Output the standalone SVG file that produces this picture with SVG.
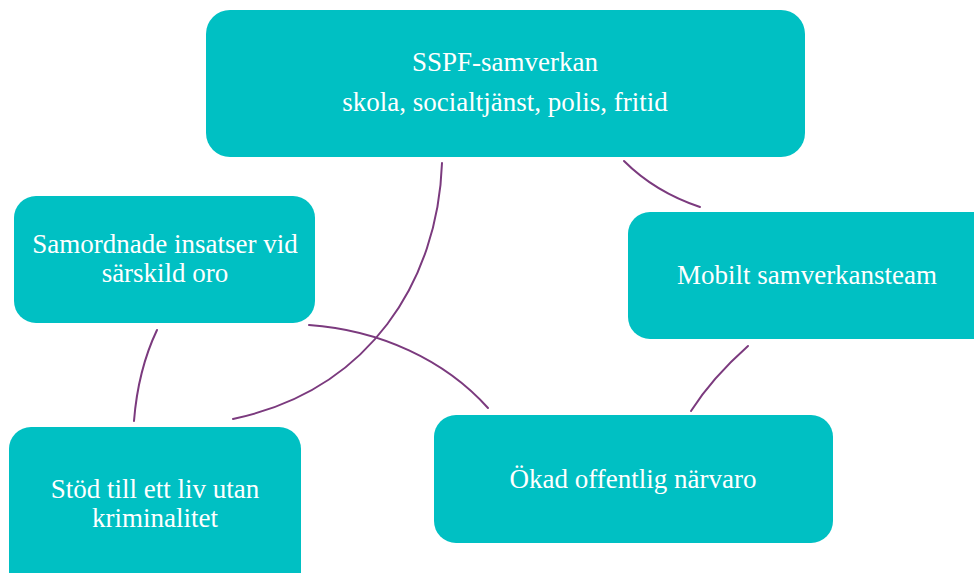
<svg xmlns="http://www.w3.org/2000/svg" width="974" height="573" viewBox="0 0 974 573">
<style>
.box{fill:#00c0c3;}
.t{font-family:"Liberation Serif","Times New Roman",serif;font-size:27px;fill:#ffffff;text-anchor:middle;}
.c{fill:none;stroke:#7b3a7e;stroke-width:2;stroke-linecap:round;}
</style>
<rect width="974" height="573" fill="#ffffff"/>
<g id="connectors">
<path class="c" d="M442,163 C438,280 370,390 233,419"/>
<path class="c" d="M624,161 Q655,192 700,207"/>
<path class="c" d="M748,346 Q712,378 691,411"/>
<path class="c" d="M309,325 C380,330 445,360 488,408"/>
<path class="c" d="M157,330 Q138,370 134,421"/>
</g>
<g id="node-sspf">
<rect class="box" x="206" y="10" width="599" height="147" rx="24"/>
<text class="t" x="505" y="71">SSPF-samverkan</text>
<text class="t" x="505" y="111">skola, socialtjänst, polis, fritid</text>
</g>
<g id="node-samordnade">
<rect class="box" x="14" y="196" width="301" height="127" rx="22"/>
<text class="t" x="165" y="253">Samordnade insatser vid</text>
<text class="t" x="165" y="282">särskild oro</text>
</g>
<g id="node-mobilt">
<rect class="box" x="628" y="212" width="370" height="127" rx="22"/>
<text class="t" x="807" y="284">Mobilt samverkansteam</text>
</g>
<g id="node-stod">
<rect class="box" x="9" y="427" width="292" height="170" rx="22"/>
<text class="t" x="155" y="498">Stöd till ett liv utan</text>
<text class="t" x="155" y="527">kriminalitet</text>
</g>
<g id="node-okad">
<rect class="box" x="434" y="415" width="399" height="128" rx="22"/>
<text class="t" x="633" y="488">Ökad offentlig närvaro</text>
</g>
</svg>
